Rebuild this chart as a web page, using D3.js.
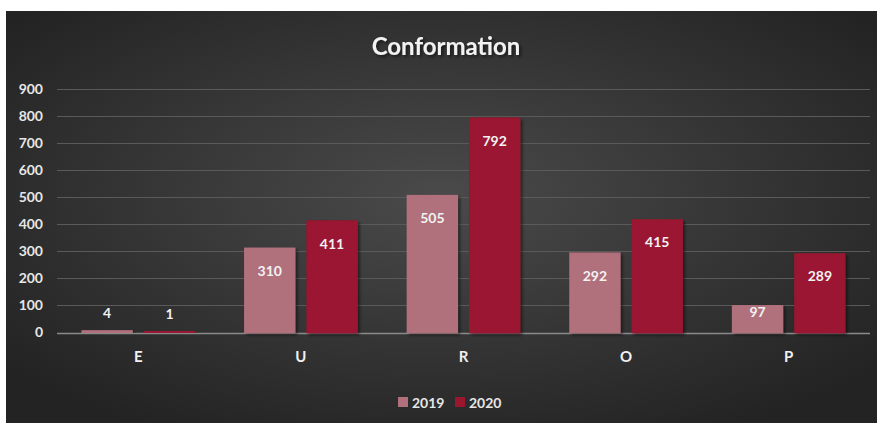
<!DOCTYPE html>
<html>
<head>
<meta charset="utf-8">
<script src="https://cdn.jsdelivr.net/npm/d3@7"></script>
<style>
  body { margin: 0; background: #fff; }
  text { font-family: Lato, "Open Sans", sans-serif; font-weight: bold; }
</style>
</head>
<body>
<div id="chart"></div>
<script>
// data
const categories = ['E', 'U', 'R', 'O', 'P'];
const seriesNames = ['2019', '2020'];
const values2019 = [4, 310, 505, 292, 97];
const values2020 = [1, 411, 792, 415, 289];
const yTicks = [0, 100, 200, 300, 400, 500, 600, 700, 800, 900];
const colors = ['#b0707c', '#9a1730'];

const width = 877;
const height = 423;
const margin = {left: 57, right: 7, top: 89.5, bottom: 90.5};

const svg = d3.select('#chart')
  .append('svg')
  .attr('width', width)
  .attr('height', height);

const defs = svg.append('defs');
const grad = defs.append('radialGradient')
  .attr('id', 'bg')
  .attr('cx', '50%').attr('cy', '45%').attr('r', '65%');
grad.append('stop').attr('offset', '0%').attr('stop-color', '#4a4a4a');
grad.append('stop').attr('offset', '100%').attr('stop-color', '#232323');

const shadow = defs.append('filter').attr('id', 'shadow')
  .attr('x', '-20%').attr('y', '-20%').attr('width', '150%').attr('height', '150%');
shadow.append('feDropShadow')
  .attr('dx', 2).attr('dy', 2).attr('stdDeviation', 1.5)
  .attr('flood-color', '#000').attr('flood-opacity', 0.5);

// background panel
svg.append('rect')
  .attr('x', 6).attr('y', 11)
  .attr('width', width - 6).attr('height', height - 11)
  .attr('fill', 'url(#bg)');

const plotW = width - margin.left - margin.right;
const plotH = height - margin.top - margin.bottom;

const g = svg.append('g')
  .attr('transform', `translate(${margin.left},${margin.top})`);

const x0 = d3.scaleBand().domain(categories).range([0, plotW]).paddingInner(0.31).paddingOuter(0.155);
const x1 = d3.scaleBand().domain(seriesNames).range([0, x0.bandwidth()]).paddingInner(0.2);
const y = d3.scaleLinear().domain([0, 900]).range([plotH, 0]);

// gridlines
g.append('g')
  .selectAll('line')
  .data(yTicks.filter(d => d > 0))
  .join('line')
  .attr('x1', 0).attr('x2', plotW)
  .attr('y1', d => y(d)).attr('y2', d => y(d))
  .attr('stroke', '#5a5a5a').attr('stroke-width', 1);

// zero axis line (under the bars so the tiny ones stay visible)
g.append('line')
  .attr('x1', 0).attr('x2', plotW)
  .attr('y1', y(0) + 1).attr('y2', y(0) + 1)
  .attr('stroke', '#8a8a8a').attr('stroke-width', 1.5);

// y axis labels
const yAxis = g.append('g')
  .call(d3.axisLeft(y).tickValues(yTicks).tickSize(0).tickPadding(14));
yAxis.select('.domain').remove();
yAxis.selectAll('text')
  .attr('fill', '#e6e6e6')
  .style('font-size', '14px');

// bars
const table = categories.map((c, i) => ({cat: c, vals: [values2019[i], values2020[i]]}));
const groups = g.append('g')
  .selectAll('g')
  .data(table)
  .join('g')
  .attr('transform', d => `translate(${x0(d.cat)},0)`);

groups.selectAll('rect')
  .data(d => d.vals.map((v, k) => ({v, k})))
  .join('rect')
  .attr('x', d => x1(seriesNames[d.k]))
  .attr('width', x1.bandwidth())
  .attr('y', d => y(d.v) - 0.5)
  .attr('height', d => plotH - y(d.v) + 0.5)
  .attr('fill', d => colors[d.k])
  .attr('stroke', d => colors[d.k])
  .attr('stroke-width', 1.5)
  .attr('filter', 'url(#shadow)');

// value labels: inside near the top, above the bar when it is too short
const labelY = d => {
  const h = plotH - y(d.v);
  if (h < 10) return y(d.v) - 13;
  if (h < 54) return y(d.v) + h / 2 - 2;
  return y(d.v) + 27;
};
groups.selectAll('text')
  .data(d => d.vals.map((v, k) => ({v, k})))
  .join('text')
  .attr('x', d => x1(seriesNames[d.k]) + x1.bandwidth() / 2)
  .attr('y', labelY)
  .attr('text-anchor', 'middle')
  .attr('fill', '#f2f2f2')
  .style('font-size', '14px')
  .text(d => d.v);

// x axis labels
const xAxis = g.append('g')
  .attr('transform', `translate(0,${plotH})`)
  .call(d3.axisBottom(x0).tickSize(0).tickPadding(19));
xAxis.select('.domain').remove();
xAxis.selectAll('text')
  .attr('fill', '#f0f0f0')
  .style('font-size', '15px');

// title
svg.append('text')
  .attr('x', 446).attr('y', 55)
  .attr('text-anchor', 'middle')
  .attr('fill', '#f2f2f2')
  .attr('filter', 'url(#shadow)')
  .style('font-size', '24px')
  .text('Conformation');

// legend
const legend = svg.append('g').attr('transform', 'translate(398,403)');
const items = legend.selectAll('g')
  .data(seriesNames)
  .join('g')
  .attr('transform', (d, i) => `translate(${i * 57},0)`);
items.append('rect')
  .attr('x', 0).attr('y', -6)
  .attr('width', 10).attr('height', 10)
  .attr('fill', (d, i) => colors[i]);
items.append('text')
  .attr('x', 14).attr('y', 5)
  .attr('fill', '#e6e6e6')
  .style('font-size', '14px')
  .text(d => d);
</script>
</body>
</html>
